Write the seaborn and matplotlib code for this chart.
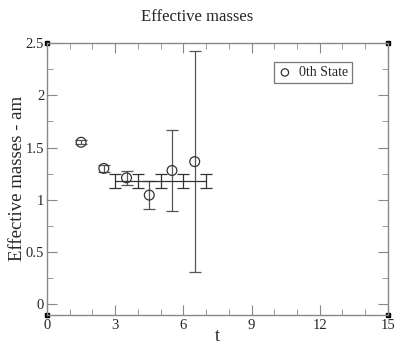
import numpy as np
import pandas as pd
import seaborn as sns
import matplotlib.pyplot as plt
from matplotlib.ticker import MultipleLocator

# effective mass data
t = [1.5, 2.5, 3.5, 4.5, 5.5, 6.5]
m_eff = [1.55, 1.30, 1.21, 1.045, 1.28, 1.365]
m_err = [0.02, 0.03, 0.065, 0.13, 0.39, 1.06]

# fit band
t_fit = [3, 4, 5, 6, 7]
m_fit = [1.18, 1.18, 1.18, 1.18, 1.18]
fit_err = [0.065, 0.065, 0.065, 0.065, 0.065]

sns.set_style("ticks")
plt.rcParams['font.family'] = ['Liberation Serif', 'DejaVu Serif']

fig = plt.figure(figsize=(3.95, 3.46), dpi=100)
ax = fig.add_axes([0.119, 0.090, 0.863, 0.786])

data = pd.DataFrame({"t": t, "m": m_eff})
ax.errorbar(t, m_eff, yerr=m_err, fmt="none", ecolor="#555555",
            elinewidth=0.9, capsize=4, capthick=0.9)
sns.scatterplot(data=data, x="t", y="m", ax=ax, marker="o", s=50,
                facecolor="none", edgecolor="#333333", linewidth=0.9,
                label="0th State", zorder=3)

ax.errorbar(t_fit, m_fit, yerr=fit_err, fmt="-", color="#333333",
            lw=0.9, capsize=4, capthick=0.9)

ax.set_xlim(0, 15)
ax.set_ylim(-0.1, 2.5)
ax.xaxis.set_major_locator(MultipleLocator(3))
ax.xaxis.set_minor_locator(MultipleLocator(1))
ax.yaxis.set_major_locator(MultipleLocator(0.5))
ax.yaxis.set_minor_locator(MultipleLocator(0.25))
ax.set_yticks([0, 0.5, 1, 1.5, 2, 2.5])
ax.set_yticklabels(["0", "0.5", "1", "1.5", "2", "2.5"])
ax.tick_params(which="both", direction="in", top=True, right=True,
               color="#888888", labelsize=10.5, pad=3)
ax.tick_params(axis="y", pad=2)
ax.tick_params(which="major", length=7)
ax.tick_params(which="minor", length=4)
for sp in ax.spines.values():
    sp.set_color("#888888")
    sp.set_linewidth(1)

# corner squares
ax.plot([0, 1, 0, 1], [0, 0, 1, 1], "s", color="black", ms=3,
        transform=ax.transAxes, clip_on=False)

ax.set_xlabel("t", fontsize=13, labelpad=-3)
ax.set_ylabel("Effective masses - am", fontsize=13.5)
ax.yaxis.set_label_coords(-0.063, 0.5)
fig.suptitle("Effective masses", fontsize=12, y=0.975)

leg = ax.legend(loc="upper right", bbox_to_anchor=(0.895, 0.93), frameon=True,
                fancybox=False, fontsize=10, handletextpad=0.5,
                borderpad=0.3, handlelength=1.0, markerscale=0.75,
                borderaxespad=0)
leg.get_frame().set_edgecolor("#555555")
leg.get_frame().set_linewidth(0.9)

fig.savefig("out.png", dpi=100)
